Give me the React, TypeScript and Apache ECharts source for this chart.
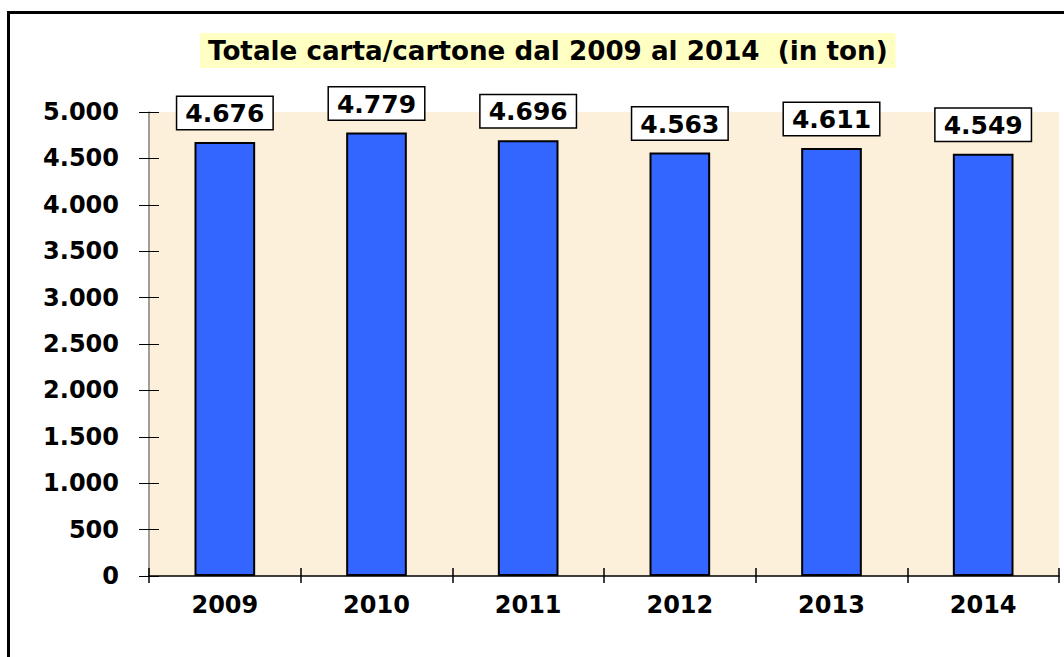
import React, { useEffect, useRef } from "react";
import * as echarts from "echarts";

const titleText = "Totale carta/cartone dal 2009 al 2014  (in ton)";
const years = ["2009", "2010", "2011", "2012", "2013", "2014"];
const tons = [4676, 4779, 4696, 4563, 4611, 4549];
const yMin = 0;
const yMax = 5000;
const yStep = 500;

const fmt = (v: number) => {
  const s = String(Math.round(v));
  return s.replace(/\B(?=(\d{3})+(?!\d))/g, ".");
};

const FONT = "DejaVu Sans";

export default function App() {
  const ref = useRef<HTMLDivElement>(null);
  useEffect(() => {
    if (!ref.current) return;
    const chart = echarts.init(ref.current, undefined, { renderer: "svg" });
    chart.setOption({
      animation: false,
      backgroundColor: "#ffffff",
      title: {
        text: titleText,
        left: 200,
        top: 33,
        padding: [4, 8, 4, 8],
        backgroundColor: "#FFFFC4",
        textStyle: {
          fontFamily: FONT,
          fontWeight: "bold",
          fontSize: 26.2,
          lineHeight: 27,
          color: "#000",
        },
      },
      graphic: [
        {
          type: "rect",
          shape: { x: 8.5, y: 12.5, width: 1100, height: 700 },
          style: { fill: "none", stroke: "#000", lineWidth: 3 },
          z: 100,
        },
      ],
      grid: { left: 149, right: 5, top: 112, bottom: 81, backgroundColor: "#FCF0DA", show: true, borderWidth: 0 },
      xAxis: [
        {
          type: "category",
          data: years,
          boundaryGap: true,
          axisLine: { show: true, lineStyle: { color: "#000", width: 1.5 } },
          axisTick: { show: true, length: 7, lineStyle: { color: "#000", width: 1.5 } },
          axisLabel: {
            margin: 17,
            fontFamily: FONT,
            fontWeight: "bold",
            fontSize: 24,
            color: "#000",
          },
        },
        {
          type: "category",
          data: years,
          position: "bottom",
          boundaryGap: true,
          axisLine: { show: false },
          axisTick: { show: true, inside: true, length: 8, lineStyle: { color: "#000", width: 1.5 } },
          axisLabel: { show: false },
        },
      ],
      yAxis: [
        {
          type: "value",
          min: yMin,
          max: yMax,
          interval: yStep,
          splitLine: { show: false },
          axisLine: { show: true, lineStyle: { color: "#808080", width: 1.5 } },
          axisTick: { show: true, length: 10, lineStyle: { color: "#000", width: 1 } },
          axisLabel: {
            margin: 30,
            fontFamily: FONT,
            fontWeight: "bold",
            fontSize: 24,
            color: "#000",
            formatter: (v: number) => fmt(v),
          },
        },
        {
          type: "value",
          min: yMin,
          max: yMax,
          interval: yStep,
          position: "left",
          splitLine: { show: false },
          axisLine: { show: false },
          axisTick: { show: true, inside: true, length: 10, lineStyle: { color: "#000", width: 1 } },
          axisLabel: { show: false },
        },
      ],
      series: [
        {
          type: "bar",
          data: tons,
          barWidth: "40%",
          itemStyle: { color: "#3366FF", borderColor: "#000", borderWidth: 2 },
          label: {
            show: true,
            position: "top",
            distance: 13,
            formatter: (p: any) => fmt(p.value),
            fontFamily: FONT,
            fontWeight: "bold",
            fontSize: 25,
            color: "#000",
            backgroundColor: "#fff",
            borderColor: "#000",
            borderWidth: 1.5,
            padding: [4, 8, 3, 8],
          },
        },
      ],
    });
    return () => chart.dispose();
  }, []);
  return <div ref={ref} style={{ width: 1064, height: 657, position: "absolute", left: 0, top: 0 }} />;
}
